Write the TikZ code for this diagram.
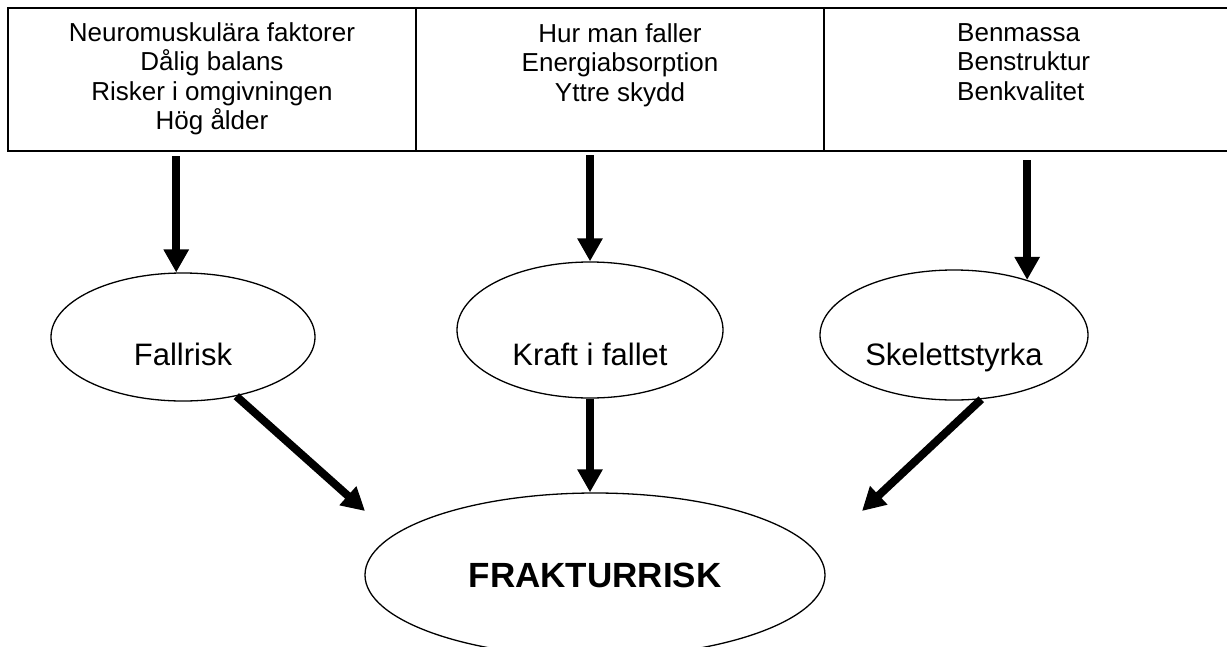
\documentclass[tikz,border=0pt]{standalone}
\usepackage{fontspec}
\setmainfont{Liberation Sans}
\usetikzlibrary{shapes.geometric,arrows.meta,positioning,calc}

\begin{document}
\begin{tikzpicture}[x=1pt, y=-1pt,
    ruta/.style={draw, line width=1.6pt, minimum width=408pt, minimum height=143pt, inner sep=0pt, outer sep=0pt},
    lista/.style={inner sep=0pt, align=center, font=\fontsize{26pt}{29.5pt}\selectfont},
    oval/.style={ellipse, draw, line width=1.3pt, inner sep=0pt, font=\fontsize{31pt}{36pt}\selectfont, text depth=0pt},
    pil/.style={line width=8pt, -{Triangle[length=23pt, width=24pt]}}]
    \useasboundingbox (0,0) rectangle (1227,646);
    % faktorer
    \node[ruta, anchor=north west] (boxfall) at (8,8) {};
    \node[ruta, right=0pt of boxfall] (boxkraft) {};
    \node[ruta, right=0pt of boxkraft, minimum width=420pt] (boxskel) {};
    \node[lista, below=14pt of boxfall.north] {Neuromuskulära faktorer\\Dålig balans\\Risker i omgivningen\\Hög ålder};
    \node[lista, below=15pt of boxkraft.north] {Hur man faller\\Energiabsorption\\Yttre skydd};
    \node[lista, align=left, anchor=north west] at ([xshift=133pt, yshift=-15pt]boxskel.north west) {Benmassa\\Benstruktur\\Benkvalitet};
    % mellanled
    \node[oval, minimum width=264pt, minimum height=128pt, text height=56pt] (fall) at (183,337) {Fallrisk};
    \node[oval, minimum width=266pt, minimum height=136pt, text height=70pt] (kraft) at (590,330) {Kraft i fallet};
    \node[oval, minimum width=268pt, minimum height=130pt, text height=60pt] (skel) at (954,335) {Skelettstyrka};
    \node[ellipse, draw, line width=1.3pt, minimum width=460pt, minimum height=164pt, font=\bfseries\fontsize{35pt}{40pt}\selectfont] (frak) at (595,575) {FRAKTURRISK};
    \coordinate (tipfall) at (365,511);
    \coordinate (tipskel) at (862,511);
    % pilar
    \draw[pil] ([yshift=-5pt]boxfall.south -| fall.96) -- (fall.96);
    \draw[pil] ([yshift=-4pt]boxkraft.south -| kraft.north) -- (kraft.north);
    \draw[pil] ([yshift=-9pt]boxskel.south -| skel.37) -- (skel.37);
    \draw[pil] (fall.-48) -- (tipfall);
    \draw[pil] (kraft.south) -- (kraft.south |- frak.north);
    \draw[pil] (skel.-67) -- (tipskel);
\end{tikzpicture}
\end{document}
